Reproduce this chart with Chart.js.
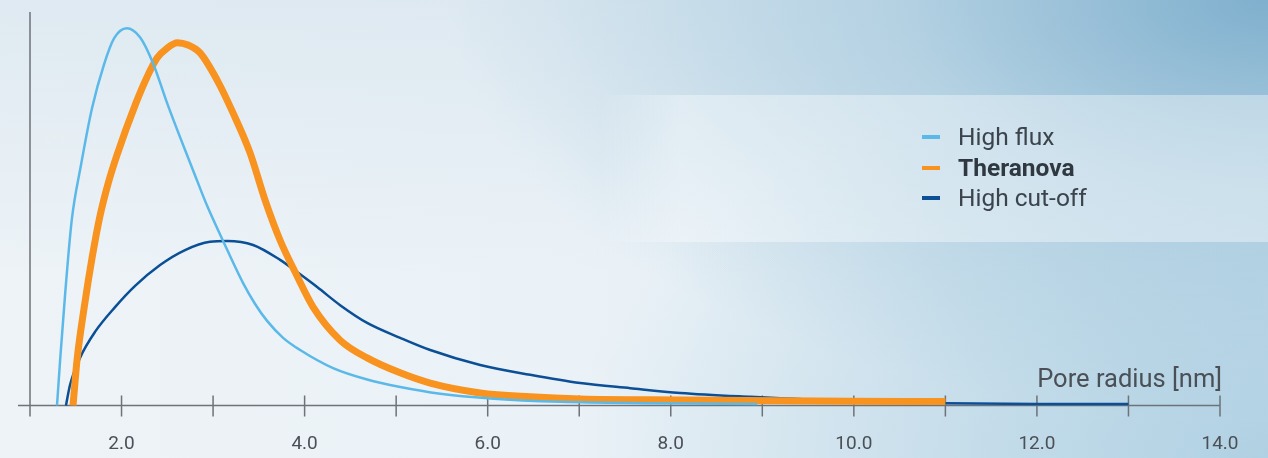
<!DOCTYPE html>
<html>
<head>
<meta charset="utf-8">
<script src="https://cdn.jsdelivr.net/npm/chart.js@4.4.1/dist/chart.umd.min.js"></script>
<style>
  html, body { margin: 0; padding: 0; }
  body {
    width: 1268px; height: 458px; overflow: hidden; position: relative;
    font-family: Roboto, "Noto Sans", sans-serif;
    background:
      radial-gradient(ellipse 820px 420px at 100% 0%, rgba(118,170,202,0.9) 0%, rgba(150,192,216,0.55) 45%, rgba(255,255,255,0) 100%),
      radial-gradient(ellipse 700px 400px at 100% 100%, rgba(160,200,222,0.7) 0%, rgba(255,255,255,0) 100%),
      linear-gradient(to bottom, rgba(205,222,234,0.45) 0%, rgba(255,255,255,0) 60%),
      linear-gradient(to right, #edf3f7 0%, #ebf2f7 45%, #d6e6ef 100%);
  }
  .band {
    position: absolute; left: 600px; top: 95px; width: 668px; height: 147px;
    background: linear-gradient(to right, rgba(255,255,255,0) 0%, rgba(255,255,255,0.38) 12%, rgba(255,255,255,0.38) 100%);
  }
  #wrap { position: absolute; left: 0; top: 0; width: 1268px; height: 458px; }
  .legend { position: absolute; left: 922px; top: 122px; }
  .item { position: relative; height: 30.5px; line-height: 30px; font-size: 24.5px; color: #3b444d; padding-left: 36px; }
  .item span.sw { position: absolute; left: 0; top: 13px; width: 18px; height: 4px; }
  .item.bold { font-weight: bold; color: #2f3840; }
</style>
</head>
<body>
<div class="band"></div>
<div id="wrap"><canvas id="grafica" width="1268" height="458"></canvas></div>
<div class="legend" id="leyenda"></div>
<script>
// Datos (x = radio de poro en nm, y = frecuencia relativa)
const highFlux = [
  [1.295, 0], [1.333, 12.8], [1.383, 28.1], [1.456, 47.1], [1.557, 61.1], [1.678, 75.6],
  [1.809, 86.7], [1.918, 93.3], [2.057, 95.9], [2.202, 93.6], [2.344, 87.0], [2.497, 76.9],
  [2.639, 68.2], [2.781, 59.8], [2.934, 50.8], [3.098, 42.4], [3.328, 31.1], [3.459, 25.8],
  [3.59, 21.5], [3.765, 17.2], [3.951, 14.1], [4.311, 9.5], [4.683, 6.6], [5.044, 4.7],
  [5.481, 3.0], [6.027, 1.8], [6.792, 0.94], [7.776, 0.58], [8.945, 0.38]
];
const theranova = [
  [1.47, 0], [1.514, 11.6], [1.601, 26.3], [1.678, 37.5], [1.765, 48.2], [1.852, 56.3],
  [1.951, 63.7], [2.158, 76.9], [2.279, 83.5], [2.388, 88.3], [2.497, 90.8], [2.61, 92.2],
  [2.727, 91.6], [2.858, 89.6], [3.044, 82.7], [3.219, 74.3], [3.404, 64.2], [3.568, 52.2],
  [3.732, 42.0], [3.907, 33.4], [4.093, 25.0], [4.388, 16.6], [4.683, 12.1], [5.044, 8.3],
  [5.372, 5.7], [5.918, 3.2], [6.464, 2.2], [7.011, 1.65], [8.104, 1.4], [9.962, 1.1], [11.0, 1.0]
];
const highCutOff = [
  [1.393, 0], [1.437, 5.2], [1.546, 12.1], [1.71, 18.7], [1.929, 25.0], [2.148, 30.4],
  [2.421, 35.7], [2.694, 39.5], [2.967, 41.6], [3.153, 41.8], [3.437, 40.8], [3.732, 37.0],
  [3.918, 33.9], [4.137, 30.1], [4.388, 25.5], [4.683, 21.0], [5.044, 17.2], [5.372, 14.1],
  [5.918, 10.3], [6.464, 7.8], [7.011, 5.7], [7.557, 4.4], [8.104, 3.2], [8.869, 2.2],
  [9.962, 1.1], [11.0, 0.6], [12.0, 0.4], [13.0, 0.4]
];
const nombresSeries = ['High flux', 'Theranova', 'High cut-off'];
const coloresSeries = ['#5bb9e9', '#f7931e', '#0b4f96'];
const xTicks = [1, 2, 3, 4, 5, 6, 7, 8, 9, 10, 11, 12, 13, 14];
const xTickLabels = ['', '2.0', '', '4.0', '', '6.0', '', '8.0', '', '10.0', '', '12.0', '', '14.0'];
const tituloEje = 'Pore radius [nm]';

function aPuntos(arr) { return arr.map(p => ({ x: p[0], y: p[1] })); }

// Plugin para dibujar ejes con marcas que cruzan la línea base
const ejesPlugin = {
  id: 'ejes',
  beforeDatasetsDraw(chart) {
    const c = chart.ctx;
    const xs = chart.scales.x, ys = chart.scales.y;
    const y0 = ys.getPixelForValue(0);
    const x0 = xs.getPixelForValue(1);
    c.save();
    c.strokeStyle = '#6d7378';
    c.lineWidth = 1.5;
    c.beginPath();
    c.moveTo(18, y0); c.lineTo(xs.getPixelForValue(14), y0);
    c.moveTo(x0, ys.getPixelForValue(100)); c.lineTo(x0, y0 + 10);
    xTicks.forEach(v => {
      const px = xs.getPixelForValue(v);
      c.moveTo(px, y0 - 10); c.lineTo(px, y0 + 11);
    });
    c.stroke();
    c.fillStyle = '#4a5056';
    c.font = '19px Roboto';
    c.textAlign = 'center';
    c.textBaseline = 'middle';
    xTicks.forEach((v, i) => {
      if (xTickLabels[i]) c.fillText(xTickLabels[i], xs.getPixelForValue(v), 444);
    });
    c.font = '25.5px Roboto';
    c.textAlign = 'right';
    c.textBaseline = 'alphabetic';
    c.fillText(tituloEje, xs.getPixelForValue(14) + 2, 387);
    c.restore();
  }
};

const ctx = document.getElementById('grafica').getContext('2d');
const series = [highFlux, theranova, highCutOff];
const anchos = [2.5, 7, 2.5];
let chart = new Chart(ctx, {
  type: 'scatter',
  data: {
    datasets: series.map((s, i) => ({
      label: nombresSeries[i],
      data: aPuntos(s),
      showLine: true,
      borderColor: coloresSeries[i],
      borderWidth: anchos[i],
      borderJoinStyle: 'round',
      pointRadius: 0,
      cubicInterpolationMode: 'monotone',
      fill: false,
      clip: 20
    }))
  },
  options: {
    responsive: false,
    animation: false,
    layout: { padding: { left: 30, right: 48, top: 12, bottom: 52.5 } },
    plugins: { legend: { display: false }, tooltip: { enabled: false } },
    scales: {
      x: { type: 'linear', min: 1, max: 14, display: false },
      y: { type: 'linear', min: 0, max: 100, display: false }
    }
  },
  plugins: [ejesPlugin]
});

// Leyenda HTML (Theranova en negrita)
const leyenda = document.getElementById('leyenda');
nombresSeries.forEach((n, i) => {
  const d = document.createElement('div');
  d.className = 'item' + (i === 1 ? ' bold' : '');
  d.innerHTML = '<span class="sw" style="background:' + coloresSeries[i] + '"></span>' + n;
  leyenda.appendChild(d);
});
</script>
</body>
</html>
